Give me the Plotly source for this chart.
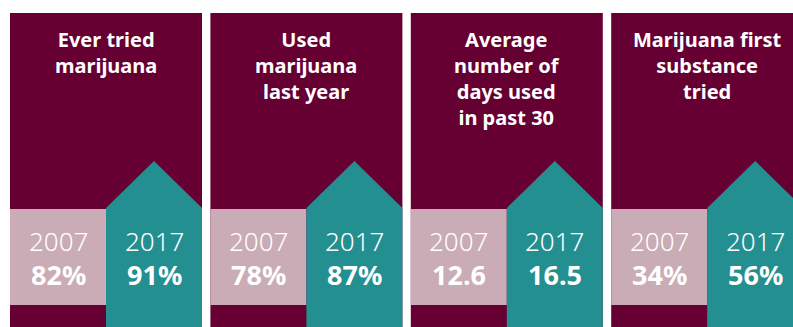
import plotly.graph_objects as go

titles = ["Ever tried<br>marijuana", "Used<br>marijuana<br>last year",
          "Average<br>number of<br>days used<br>in past 30", "Marijuana first<br>substance<br>tried"]
years = ["2007", "2017"]
values_2007 = ["82%", "78%", "12.6", "34%"]
values_2017 = ["91%", "87%", "16.5", "56%"]

W, H = 793, 327
MAROON = "#660033"
PINK = "#c9acb5"
TEAL = "#248f91"
FONT = "Noto Sans"

fig = go.Figure()
shapes = []
annotations = []
for i, t in enumerate(titles):
    left = 10 + i * 200.4
    pw = 192
    half = pw / 2
    # maroon panel
    shapes.append(dict(type="rect", xref="x", yref="y", x0=left, x1=left + pw, y0=13, y1=H,
                       fillcolor=MAROON, line=dict(width=0), layer="below"))
    # pink 2007 box
    shapes.append(dict(type="rect", xref="x", yref="y", x0=left, x1=left + half, y0=209, y1=305,
                       fillcolor=PINK, line=dict(width=0), layer="below"))
    # teal arrow 2017
    x0, xm, x1 = left + half, left + 1.5 * half, left + pw
    path = f"M {x0},{H} L {x0},208 L {xm},161 L {x1},208 L {x1},{H} Z"
    shapes.append(dict(type="path", xref="x", yref="y", path=path,
                       fillcolor=TEAL, line=dict(width=0), layer="below"))
    annotations.append(dict(x=left + half, y=24, xref="x", yref="y", text=t, showarrow=False,
                            xanchor="center", yanchor="top", align="center",
                            font=dict(family=FONT, size=20, color="white", weight="bold")))
    for cx, yr, val in [(left + half / 2, years[0], values_2007[i]), (left + 1.5 * half, years[1], values_2017[i])]:
        annotations.append(dict(x=cx, y=241, xref="x", yref="y", text=yr, showarrow=False,
                                xanchor="center", yanchor="middle",
                                font=dict(family=FONT, size=26, color="white", weight=300)))
        annotations.append(dict(x=cx, y=274, xref="x", yref="y", text=val, showarrow=False,
                                xanchor="center", yanchor="middle",
                                font=dict(family=FONT, size=27, color="white", weight="bold")))

fig.update_layout(
    width=W, height=H, margin=dict(l=0, r=0, t=0, b=0),
    paper_bgcolor="white", plot_bgcolor="white",
    xaxis=dict(range=[0, W], visible=False, fixedrange=True),
    yaxis=dict(range=[H, 0], visible=False, fixedrange=True),
    shapes=shapes, annotations=annotations, showlegend=False,
)
fig.write_html("out.html")
